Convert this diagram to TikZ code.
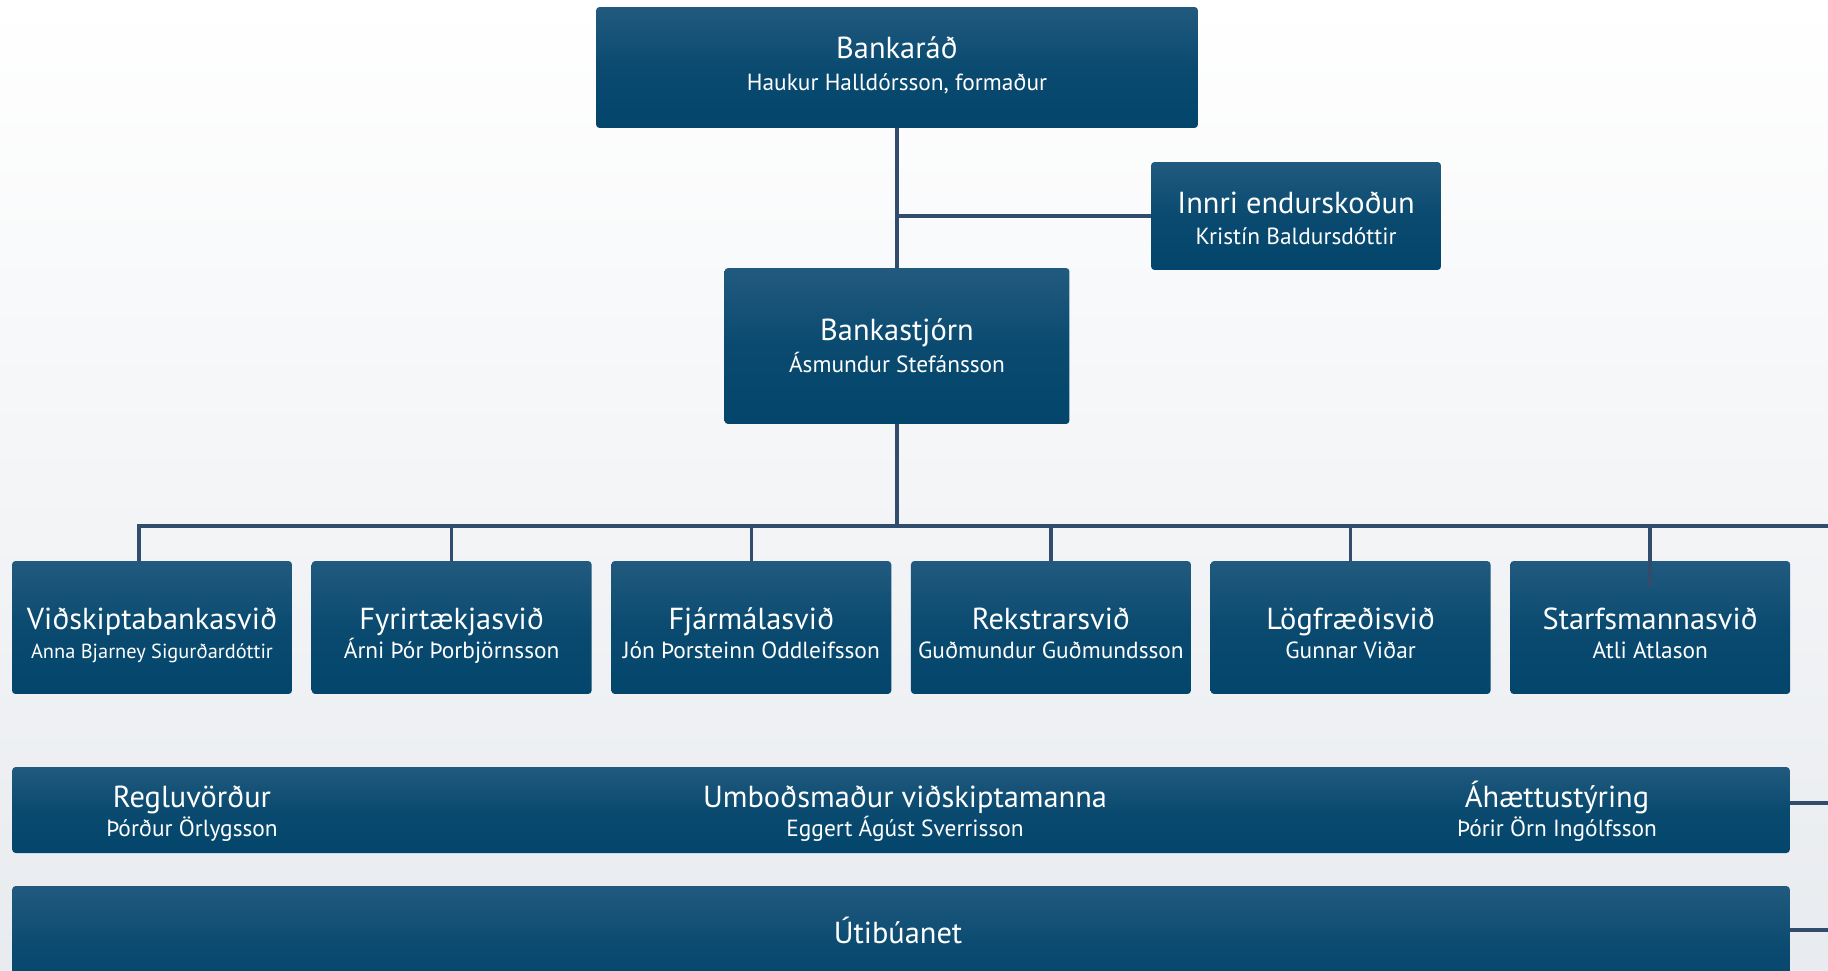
\documentclass[tikz,border=0pt]{standalone}
\usepackage{fontspec}
\setmainfont{PT Sans}
\usetikzlibrary{positioning,calc}
\definecolor{box-top}{RGB}{33,90,126}
\definecolor{box-bottom}{RGB}{3,69,107}
\definecolor{wire-blue}{RGB}{50,76,110}
\definecolor{page-bottom}{RGB}{232,235,239}
\newcommand*\ttl[2][14pt]{{\fontsize{17.3}{18}\selectfont\rule{0pt}{#1}#2}}
\newcommand*\who[1]{#1\rule[-5pt]{0pt}{0pt}}

\begin{document}
\begin{tikzpicture}[x=0.02cm,y=-0.02cm,
				unit/.style={rounded corners=2pt,top color=box-top,bottom color=box-bottom,middle color=box-bottom!75!box-top,text=white,align=center,inner sep=0pt,font=\fontsize{13.3}{18}\selectfont},
				svid/.style={unit,minimum width=5.6cm,minimum height=2.66cm,font=\fontsize{13.3}{16.5}\selectfont},
				tag/.style={text=white,align=center,inner sep=0pt,font=\fontsize{13.3}{16.5}\selectfont},
				wire/.style={draw=wire-blue,line width=2pt}]
				\shade[top color=white,bottom color=page-bottom] (0,0) rectangle (1828,970);
				\useasboundingbox (0,0) rectangle (1828,970);
				\clip (0,0) rectangle (1828,970);
				\node[unit,minimum width=12.04cm,minimum height=2.42cm] (bankarad) at (897,67.5) {\ttl[13pt]{Bankaráð}\\\who{Haukur Halldórsson, formaður}};
				\node[unit,minimum width=5.8cm,minimum height=2.16cm] (innri) at (1296,216) {\ttl[20pt]{Innri endurskoðun}\\\who{Kristín Baldursdóttir}};
				\node[unit,minimum width=6.9cm,minimum height=3.12cm] (bankastjorn) at (897,346) {\ttl[17.1pt]{Bankastjórn}\\\who{Ásmundur Stefánsson}};
				\node[svid] (svid1) at (152,627.5) {\ttl[24.3pt]{Viðskiptabankasvið}\\{\fontsize{11.6}{16.5}\selectfont\who{Anna Bjarney Sigurðardóttir}}};
				\node[svid,right=0.38cm of svid1] (svid2) {\ttl[24.3pt]{Fyrirtækjasvið}\\\who{Árni Þór Þorbjörnsson}};
				\node[svid,right=0.38cm of svid2] (svid3) {\ttl[24.3pt]{Fjármálasvið}\\\who{Jón Þorsteinn Oddleifsson}};
				\node[svid,right=0.38cm of svid3] (svid4) {\ttl[24.3pt]{Rekstrarsvið}\\\who{Guðmundur Guðmundsson}};
				\node[svid,right=0.38cm of svid4] (svid5) {\ttl[24.3pt]{Lögfræðisvið}\\\who{Gunnar Viðar}};
				\node[svid,right=0.38cm of svid5] (svid6) {\ttl[24.3pt]{Starfsmannasvið}\\\who{Atli Atlason}};
				\node[unit,minimum width=35.56cm,minimum height=1.72cm] (band) at (901,810) {};
				\node[tag] (regla) at (192,809.8) {\ttl[17pt]{Regluvörður}\\Þórður Örlygsson};
				\node[tag] (umbod) at (905,809.8) {\ttl[17pt]{Umboðsmaður viðskiptamanna}\\Eggert Ágúst Sverrisson};
				\node[tag] (haetta) at (1557,809.5) {\ttl[17pt]{Áhættustýring}\\Þórir Örn Ingólfsson};
				\node[unit,minimum width=35.56cm,minimum height=2.48cm] (net) at (901,948) {};
				\node[tag] (net-text) at (898,929) {\ttl[17pt]{Útibúanet}};
				\coordinate (bus) at (1828,526);
				\coordinate (band-end) at (1828,803);
				\coordinate (net-end) at (1828,930);
				\draw[wire] (bankarad.south) -- (bankastjorn.north);
				\draw[wire] (innri.west) -- (innri.west -| bankarad.south);
				\draw[wire] (bankastjorn.south) -- (bankastjorn.south |- bus);
				\draw[wire] ($(svid1.north)+(-13,0)$) |- (bus);
				\foreach \i in {2,...,5}
				\draw[wire] (svid\i.north) -- (svid\i.north |- bus);
				\draw[wire] ($(svid6.north)+(0,26)$) -- (svid6.north |- bus);
				\draw[wire] (band.east |- band-end) -- (band-end);
				\draw[wire] (net.east |- net-end) -- (net-end);
				\end{tikzpicture}
\end{document}
